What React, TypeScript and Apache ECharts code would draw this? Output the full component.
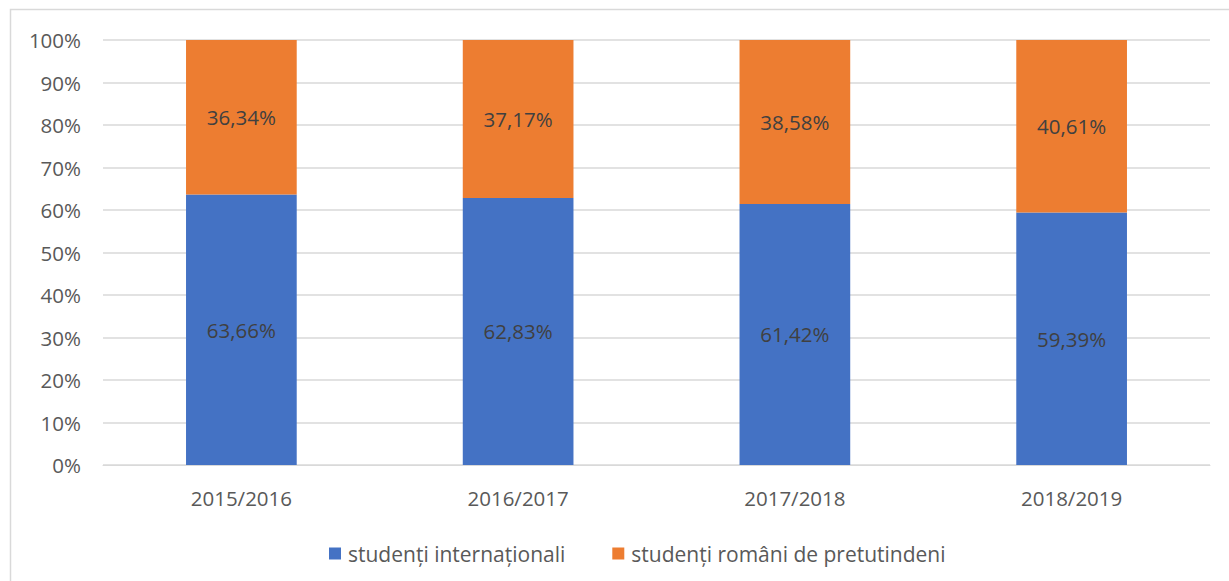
import React, { useEffect, useRef } from "react";
import * as echarts from "echarts";

const categories = ["2015/2016", "2016/2017", "2017/2018", "2018/2019"];
const international = [63.66, 62.83, 61.42, 59.39];
const romani = [36.34, 37.17, 38.58, 40.61];
const seriesNames = ["studenți internaționali", "studenți români de pretutindeni"];

const fmt = (v: number) => v.toFixed(2).replace(".", ",") + "%";
const FONT = "'Open Sans', 'Noto Sans', sans-serif";
const FS = 20.5;

export default function App() {
  const ref = useRef<HTMLDivElement>(null);
  useEffect(() => {
    const chart = echarts.init(ref.current!, null, { renderer: "svg" });
    chart.setOption({
      animation: false,
      backgroundColor: "#ffffff",
      textStyle: { fontFamily: FONT },
      graphic: [
        {
          type: "rect",
          shape: { x: 10.5, y: 9.5, width: 1240, height: 600 },
          style: { fill: "none", stroke: "#d9d9d9", lineWidth: 1.5 },
          silent: true,
        },
      ],
      grid: { left: 103, right: 19, top: 40, bottom: 116 },
      legend: {
        top: 538,
        left: 324,
        icon: "rect",
        itemWidth: 12,
        itemHeight: 12,
        itemGap: 47,
        textStyle: { color: "#595959", fontSize: 21, fontFamily: FONT, padding: [0, 0, 0, 2] },
        data: seriesNames,
      },
      xAxis: {
        type: "category",
        data: categories,
        axisLine: { lineStyle: { color: "#d9d9d9" } },
        axisTick: { show: false },
        axisLabel: { color: "#595959", fontSize: FS, margin: 22, fontFamily: FONT },
      },
      yAxis: {
        type: "value",
        min: 0,
        max: 100,
        interval: 10,
        axisLine: { show: false },
        axisTick: { show: false },
        splitLine: { lineStyle: { color: "#d9d9d9", width: 1.5 } },
        axisLabel: {
          color: "#595959",
          fontSize: FS,
          margin: 22,
          fontFamily: FONT,
          formatter: (v: number) => v + "%",
        },
      },
      series: [
        {
          name: seriesNames[0],
          type: "bar",
          stack: "total",
          barWidth: "40%",
          data: international,
          itemStyle: { color: "#4472C4" },
          label: {
            show: true,
            position: "inside",
            color: "#404040",
            fontSize: FS,
            fontFamily: FONT,
            formatter: (p: any) => fmt(p.value),
          },
        },
        {
          name: seriesNames[1],
          type: "bar",
          stack: "total",
          barWidth: "40%",
          data: romani,
          itemStyle: { color: "#ED7D31" },
          label: {
            show: true,
            position: "inside",
            color: "#404040",
            fontSize: FS,
            fontFamily: FONT,
            formatter: (p: any) => fmt(p.value),
          },
        },
      ],
    });
    return () => chart.dispose();
  }, []);
  return (
    <div
      ref={ref}
      style={{ position: "fixed", left: 0, top: 0, width: 1229, height: 581 }}
    />
  );
}
